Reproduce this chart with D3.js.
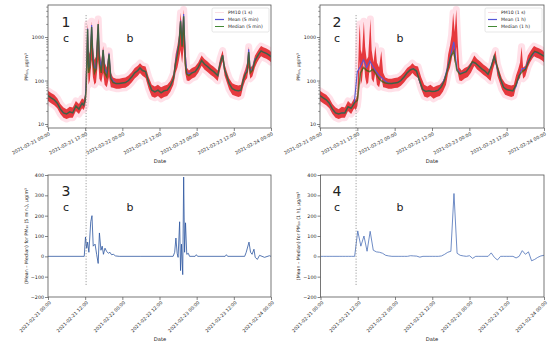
<!DOCTYPE html>
<html><head><meta charset="utf-8">
<script src="https://cdn.jsdelivr.net/npm/d3@7"></script>
<style>body{margin:0;background:#fff}svg{display:block}text{font-family:"DejaVu Sans",sans-serif;fill:#222}</style>
</head><body><svg id="c" width="550" height="351"></svg>
<script>
// ---- DATA (hours since 2021-02-21 00:00) ----
const xTickHours = [0, 12, 24, 36, 48, 60, 72];
const xTickLabels = ["2021-02-21 00:00","2021-02-21 12:00","2021-02-22 00:00","2021-02-22 12:00","2021-02-23 00:00","2021-02-23 12:00","2021-02-24 00:00"];
const logTicks = [10, 100, 1000];
const diffTicks = [-200, -100, 0, 100, 200, 300, 400];

const t5 = [0,1,2,3,4,5,6,7,8,9,10,11,11.5,12,12.3,12.6,12.8,13.1,13.5,14.1,14.5,15,15.5,16.2,16.6,17.2,17.8,18.3,19,19.7,20.3,21,22,23,24,25,26,27,28,29,29.7,30.5,31.5,32.5,33.5,34.5,35.5,36.5,37.5,38.5,39.5,40.5,41.2,41.8,42.3,42.8,43.3,43.8,44.3,44.8,45.5,46.5,47.5,48.5,49.6,50.5,51.5,52.5,53.5,54.8,55.6,56.4,57,57.8,58.5,59.5,60.5,61.5,62.3,63,63.7,64.3,64.8,65.3,66,66.8,67.5,68.2,68.8,69.5,70.5,71.5,72];
const median5 = [45,40,36,30,22,18,17,19,18,26,22,30,27,35,60,350,1500,150,200,1700,300,150,180,2000,250,150,500,150,120,400,110,90,85,85,88,90,100,120,150,170,195,170,160,90,60,55,60,52,58,60,75,110,250,400,700,2300,600,3000,250,140,130,150,160,200,290,240,210,180,160,130,250,380,180,120,85,65,60,58,60,100,140,160,450,150,170,280,350,420,480,450,420,380,350];
const mean5 = [45,40,36,30,22,18,17,19,18,26,22,30,27,35,90,420,1560,200,220,1900,350,200,190,1965,370,180,510,190,145,420,118,98,85,85,88,90,100,120,150,170,195,170,160,90,60,55,60,52,58,60,75,110,270,490,710,2400,660,3390,415,150,145,150,160,200,290,240,210,180,160,130,250,380,180,120,85,65,60,58,60,100,140,180,520,170,180,315,335,425,480,450,420,380,350];
const raw1sLow = [34,30,27,23,17,14,13,14,14,20,17,23,21,26,40,100,300,80,100,300,120,80,90,300,110,90,150,80,70,120,70,68,65,65,67,68,76,90,112,128,148,128,115,65,43,40,44,38,42,44,55,80,150,200,300,500,250,600,150,100,98,112,120,150,218,180,158,135,120,98,180,280,130,88,62,47,44,42,44,72,100,115,200,110,125,200,260,315,360,338,315,285,262];
const raw1sHigh = [58,52,47,39,29,24,22,25,24,34,29,39,36,48,250,1200,2000,500,400,2300,600,300,350,2600,500,260,620,260,200,480,150,118,110,110,115,118,130,156,195,220,250,220,210,120,80,73,80,70,76,80,98,145,400,650,1100,3600,1300,4300,700,200,170,195,210,260,375,312,273,234,208,170,325,490,240,156,112,86,80,77,80,130,182,260,600,200,220,370,455,545,620,585,545,494,455];

const median1h = [45,40,36,30,22,18,17,18,18,25,23,30,35,150,200,170,160,180,140,110,95,88,85,85,88,90,100,120,150,175,185,165,100,62,56,58,56,57,60,72,100,180,350,470,170,140,150,160,200,270,250,215,185,165,140,200,360,200,110,70,62,60,58,80,130,160,180,270,380,470,440,400,360];
const mean1h = [45,40,36,30,22,18,17,18,18,25,23,30,160,210,300,200,283,210,162,131,113,96,87,85,88,90,100,120,150,178,187,166,96,62,56,58,56,57,60,74,110,200,375,779,185,145,152,160,203,260,250,215,185,165,140,217,355,182,110,70,62,60,58,72,130,188,190,292,358,455,435,402,365];

const tDiff5 = [0,11.7,12.1,12.5,12.8,13.2,13.8,14.2,14.6,15.2,15.7,16.2,16.6,17.1,17.5,17.9,18.4,18.9,19.5,20,20.5,21.1,21.8,23,30,40.4,40.9,41.3,41.7,42,42.5,42.8,43.1,43.5,43.8,44.1,44.4,44.8,45.3,45.7,47.5,47.9,48.3,57.2,57.6,58,63.5,64,64.9,65.4,65.9,66.5,66.9,67.6,68.3,69.9,71.5,72];
const diff5 = [0,0,95,40,70,20,170,200,50,60,10,-35,115,30,50,10,40,25,15,20,8,10,2,0,0,0,20,90,15,-5,170,-70,60,-90,390,20,165,10,15,0,0,8,0,0,8,0,0,20,70,20,10,35,-5,-15,5,-5,3,0];
const diff1h = [0,0,0,0,0,0,0,0,0,0,0,0,125,50,100,25,123,30,22,20,15,5,2,0,0,0,0,0,0,3,2,1,-4,0,0,0,0,0,0,2,10,20,25,309,15,5,2,0,3,-10,0,0,0,0,0,17,-5,-18,0,0,0,0,0,-8,0,28,10,22,-22,-15,-5,2,5];
const hours1h = d3.range(0, 73);

// ---- DRAW ----
const svg = d3.select("#c");
const C = {raw:"#e01a1f", glow:"#ffc2d2", mean:"#5656d8", median:"#3a6414", frame:"#555", diff3:"#2c55a0", diff4:"#4b70b8"};

function panel(o){
  const g = svg.append("g");
  const x = d3.scaleLinear().domain([0,72]).range([o.x0,o.x1]);
  const y = o.log ? d3.scaleLog().domain([8.1,5450]).range([o.y1,o.y0])
                  : d3.scaleLinear().domain([-200,400]).range([o.y1,o.y0]);
  const xa = g.append("g").attr("transform",`translate(0,${o.y1})`)
    .call(d3.axisBottom(x).tickValues(xTickHours).tickSize(3).tickFormat(""));
  xa.select(".domain").remove();
  xa.selectAll("line").attr("stroke","#333").attr("stroke-width",0.6);
  g.selectAll(".xl").data(xTickHours).join("text")
    .attr("transform",(d)=>`translate(${x(d)+1},${o.y1+ (o.log?4:3.5)}) rotate(${o.rot})`)
    .attr("text-anchor","end").attr("dominant-baseline","hanging")
    .attr("font-size",4.7).text((d,i)=>xTickLabels[i]);
  let ya;
  if(o.log){
    ya = g.append("g").attr("transform",`translate(${o.x0},0)`)
      .call(d3.axisLeft(y).tickValues(logTicks).tickSize(3).tickFormat(d3.format("d")));
    const minor = y.ticks().filter(v=>logTicks.indexOf(v)<0);
    const ym = g.append("g").attr("transform",`translate(${o.x0},0)`)
      .call(d3.axisLeft(y).tickValues(minor).tickSize(1.8).tickFormat(""));
    ym.select(".domain").remove();
    ym.selectAll("line").attr("stroke","#333").attr("stroke-width",0.5);
  } else {
    ya = g.append("g").attr("transform",`translate(${o.x0},0)`)
      .call(d3.axisLeft(y).tickValues(diffTicks).tickSize(3));
  }
  ya.select(".domain").remove();
  ya.selectAll("line").attr("stroke","#333").attr("stroke-width",0.6);
  ya.selectAll("text").attr("font-size",4.8).attr("x",-4).attr("fill","#222").style("font-family","DejaVu Sans");
  const id = "clip"+o.n;
  svg.append("clipPath").attr("id",id).append("rect").attr("x",o.x0).attr("y",o.y0).attr("width",o.x1-o.x0).attr("height",o.y1-o.y0);
  const pg = g.append("g").attr("clip-path",`url(#${id})`);
  return {g,pg,x,y};
}

function framePanel(p,o){
  p.g.append("rect").attr("x",o.x0).attr("y",o.y0).attr("width",o.x1-o.x0).attr("height",o.y1-o.y0)
    .attr("fill","none").attr("stroke",C.frame).attr("stroke-width",0.8);
}

const P = [
  {n:1,x0:48,x1:271,y0:5,y1:128,log:true,rot:-28},
  {n:2,x0:320,x1:544,y0:5,y1:128,log:true,rot:-28},
  {n:3,x0:48,x1:271,y0:175,y1:297,log:false,rot:-45},
  {n:4,x0:320.5,x1:544,y0:175,y1:297,log:false,rot:-45}
];

function drawTop(o, tm, mean, med, leg){
  const p = panel(o);
  const area = d3.area().x((d,i)=>p.x(t5[i])).y0((d,i)=>p.y(raw1sLow[i])).y1((d,i)=>p.y(raw1sHigh[i]));
  p.pg.append("path").datum(t5).attr("d",area).attr("fill",C.glow).attr("stroke",C.glow).attr("stroke-width",7).attr("stroke-linejoin","round").attr("opacity",0.5);
  p.pg.append("path").datum(t5).attr("d",area).attr("fill",C.raw).attr("stroke","none").attr("opacity",0.85);
  const line = (arr)=>d3.line().x((d,i)=>p.x(tm[i])).y((d)=>p.y(d))(arr);
  p.pg.append("path").attr("d",line(mean)).attr("fill","none").attr("stroke",C.mean).attr("stroke-width",1.1);
  p.pg.append("path").attr("d",line(med)).attr("fill","none").attr("stroke",C.median).attr("stroke-width",1.5).attr("opacity",0.75);
  framePanel(p,o);
  const lx = o.x1-59, ly = 8;
  const lg = p.g.append("g");
  lg.append("rect").attr("x",lx).attr("y",ly).attr("width",57).attr("height",24).attr("rx",1.5)
    .attr("fill","#fff").attr("fill-opacity",0.85).attr("stroke","#ccc").attr("stroke-width",0.5);
  const items = [["PM10 (1 s)","#f4c8d2",0.6],[leg[0],C.mean,1.2],[leg[1],"#2f7d1f",0.9]];
  items.forEach((it,i)=>{
    const yy = ly+4.5+i*7;
    lg.append("line").attr("x1",lx+3).attr("x2",lx+12).attr("y1",yy).attr("y2",yy).attr("stroke",it[1]).attr("stroke-width",it[2]);
    lg.append("text").attr("x",lx+16).attr("y",yy).attr("dy","0.35em").attr("font-size",4.6).text(it[0]);
  });
  return p;
}

const p1 = drawTop(P[0], t5, mean5, median5, ["Mean (5 min)","Median (5 min)"]);
const p2 = drawTop(P[1], hours1h, mean1h, median1h, ["Mean (1 h)","Median (1 h)"]);

const p3 = panel(P[2]);
p3.pg.append("path").attr("d", d3.line().x((d,i)=>p3.x(tDiff5[i])).y(d=>p3.y(d))(diff5))
  .attr("fill","none").attr("stroke",C.diff3).attr("stroke-width",0.8);
framePanel(p3,P[2]);
const p4 = panel(P[3]);
p4.pg.append("path").attr("d", d3.line().x((d,i)=>p4.x(hours1h[i])).y(d=>p4.y(d))(diff1h))
  .attr("fill","none").attr("stroke",C.diff4).attr("stroke-width",0.8);
framePanel(p4,P[3]);

[[p1,12.3],[p2,11.6]].forEach(([p,h])=>{
  svg.append("line").attr("x1",p.x(h)).attr("x2",p.x(h)).attr("y1",15).attr("y2",285)
    .attr("stroke","#777").attr("stroke-width",0.7).attr("stroke-dasharray","1.2,1.6");
});

[[160,163],[432,163],[160,341],[432,341]].forEach(([cx,cy])=>{
  svg.append("text").attr("x",cx).attr("y",cy).attr("text-anchor","middle").attr("font-size",5.2).text("Date");
});
const ylabs = [
  [26,67,"PM₁₀, µg/m³"],[298,67,"PM₁₀, µg/m³"],
  [26,236,"(Mean – Median) for PM₁₀ (5 min.), µg/m³"],[298,236,"(Mean – Median) for PM₁₀ (1 h), µg/m³"]
];
ylabs.forEach(([cx,cy,t])=>{
  svg.append("text").attr("transform",`translate(${cx},${cy}) rotate(-90)`).attr("text-anchor","middle")
    .attr("dy","0.35em").attr("font-size",4.7).text(t);
});

const ann = [
  [66,27,"1",14],[66,42,"c",11],[130,42,"b",11],
  [337,27,"2",14],[337,42,"c",11],[400,42,"b",11],
  [66,196,"3",14],[66,211,"c",11],[130,211,"b",11],
  [337,196,"4",14],[337,211,"c",11],[400,211,"b",11]
];
ann.forEach(([ax,ay,t,fs])=>{
  svg.append("text").attr("x",ax).attr("y",ay).attr("text-anchor","middle").attr("font-size",fs).attr("fill","#111").text(t);
});
</script></body></html>
